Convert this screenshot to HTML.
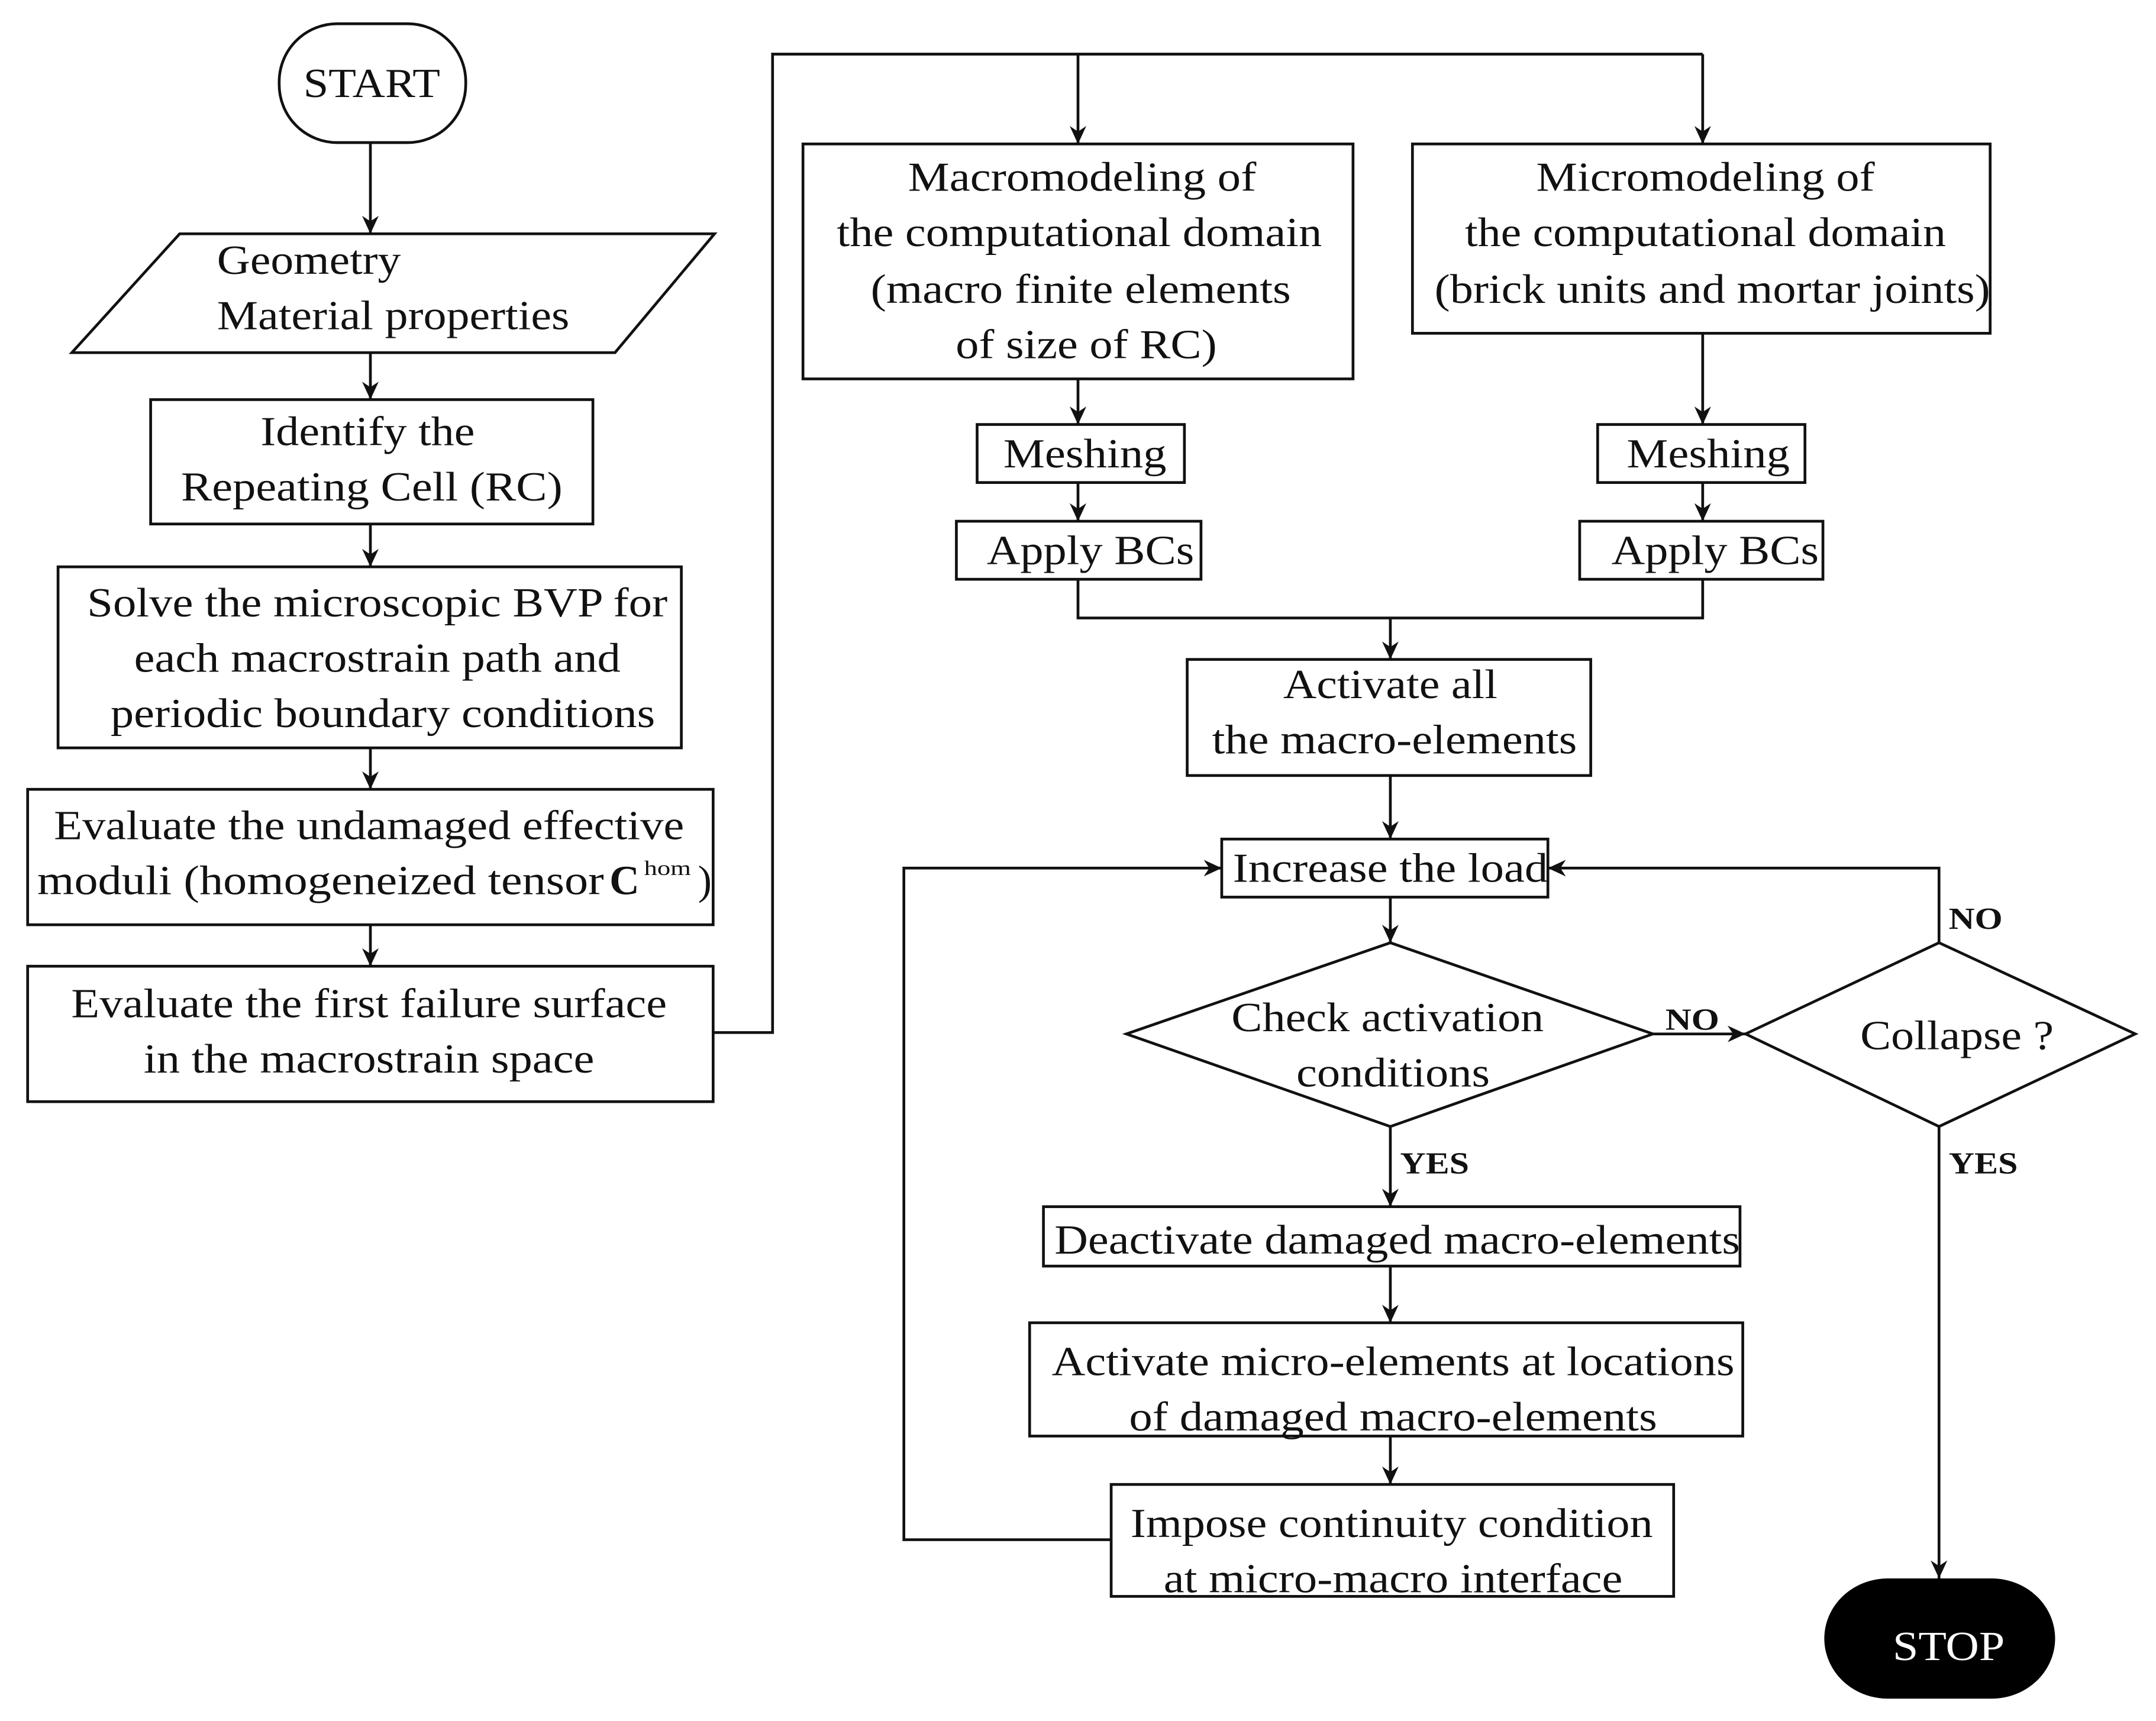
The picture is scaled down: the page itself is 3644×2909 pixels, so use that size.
<!DOCTYPE html>
<html><head><meta charset="utf-8"><style>
html,body{margin:0;padding:0;background:#fff;}
svg{display:block;}
text{font-family:"Liberation Serif",serif;fill:#111;}
</style></head><body>
<svg width="3644" height="2909" viewBox="0 0 1560 1245" xmlns="http://www.w3.org/2000/svg">
<defs>
<marker id="a" markerUnits="userSpaceOnUse" markerWidth="14" markerHeight="12" refX="13" refY="6" orient="auto">
<path d="M0,0 L13,6 L0,12 L4,6 Z" fill="#111"/>
</marker>
</defs>
<g fill="none" stroke="#111" stroke-width="2">
<!-- shapes -->
<rect x="202" y="17" width="135" height="86" rx="42" ry="42"/>
<polygon points="130,169 517,169 445,255 52,255"/>
<rect x="109" y="289" width="320" height="90"/>
<rect x="42" y="410" width="451" height="131"/>
<rect x="20" y="571" width="496" height="98"/>
<rect x="20" y="699" width="496" height="98"/>
<rect x="581" y="104" width="398" height="170"/>
<rect x="1022" y="104" width="418" height="137"/>
<rect x="707" y="307" width="150" height="42"/>
<rect x="692" y="377" width="177" height="42"/>
<rect x="1156" y="307" width="150" height="42"/>
<rect x="1143" y="377" width="176" height="42"/>
<rect x="859" y="477" width="292" height="84"/>
<rect x="884" y="607" width="236" height="42"/>
<polygon points="1006,682 1196,748 1006,815 815,748"/>
<polygon points="1403,682 1545,748 1403,815 1263,748"/>
<rect x="755" y="873" width="504" height="43"/>
<rect x="745" y="957" width="516" height="82"/>
<rect x="804" y="1074" width="407" height="81"/>
<!-- connectors -->
<line x1="268" y1="103" x2="268" y2="169" marker-end="url(#a)"/>
<line x1="268" y1="255" x2="268" y2="289" marker-end="url(#a)"/>
<line x1="268" y1="379" x2="268" y2="410" marker-end="url(#a)"/>
<line x1="268" y1="541" x2="268" y2="571" marker-end="url(#a)"/>
<line x1="268" y1="669" x2="268" y2="699" marker-end="url(#a)"/>
<polyline points="516,747 559,747 559,39 1232,39"/>
<line x1="780" y1="39" x2="780" y2="104" marker-end="url(#a)"/>
<line x1="1232" y1="39" x2="1232" y2="104" marker-end="url(#a)"/>
<line x1="780" y1="274" x2="780" y2="307" marker-end="url(#a)"/>
<line x1="780" y1="349" x2="780" y2="377" marker-end="url(#a)"/>
<line x1="1232" y1="241" x2="1232" y2="307" marker-end="url(#a)"/>
<line x1="1232" y1="349" x2="1232" y2="377" marker-end="url(#a)"/>
<polyline points="780,419 780,447 1232,447 1232,419"/>
<line x1="1006" y1="447" x2="1006" y2="477" marker-end="url(#a)"/>
<line x1="1006" y1="561" x2="1006" y2="607" marker-end="url(#a)"/>
<line x1="1006" y1="649" x2="1006" y2="682" marker-end="url(#a)"/>
<line x1="1196" y1="748" x2="1263" y2="748" marker-end="url(#a)"/>
<polyline points="1403,682 1403,628 1120,628" marker-end="url(#a)"/>
<line x1="1403" y1="815" x2="1403" y2="1142" marker-end="url(#a)"/>
<line x1="1006" y1="815" x2="1006" y2="873" marker-end="url(#a)"/>
<line x1="1006" y1="916" x2="1006" y2="957" marker-end="url(#a)"/>
<line x1="1006" y1="1039" x2="1006" y2="1074" marker-end="url(#a)"/>
<polyline points="804,1114 654,1114 654,628 884,628" marker-end="url(#a)"/>
</g>
<rect x="1320" y="1142" width="167" height="87" rx="46" ry="46" fill="#000"/>
<g font-size="30" text-anchor="middle">
<text x="269" y="70" textLength="99" lengthAdjust="spacingAndGlyphs">START</text>
<text x="157" y="198" text-anchor="start" textLength="133" lengthAdjust="spacingAndGlyphs">Geometry</text>
<text x="157" y="238" text-anchor="start" textLength="255" lengthAdjust="spacingAndGlyphs">Material properties</text>
<text x="266" y="322" textLength="155" lengthAdjust="spacingAndGlyphs">Identify the</text>
<text x="269" y="362" textLength="276" lengthAdjust="spacingAndGlyphs">Repeating Cell (RC)</text>
<text x="273" y="446" textLength="420" lengthAdjust="spacingAndGlyphs">Solve the microscopic BVP for</text>
<text x="273" y="486" textLength="352" lengthAdjust="spacingAndGlyphs">each macrostrain path and</text>
<text x="277" y="526" textLength="394" lengthAdjust="spacingAndGlyphs">periodic boundary conditions</text>
<text x="267" y="607" textLength="456" lengthAdjust="spacingAndGlyphs">Evaluate the undamaged effective</text>
<text x="27" y="647" text-anchor="start" textLength="410" lengthAdjust="spacingAndGlyphs">moduli (homogeneized tensor</text>
<text x="441" y="647" text-anchor="start" font-weight="bold">C</text>
<text x="466" y="633" text-anchor="start" font-size="15" textLength="34" lengthAdjust="spacingAndGlyphs">hom</text>
<text x="505" y="647" text-anchor="start">)</text>
<text x="267" y="736" textLength="431" lengthAdjust="spacingAndGlyphs">Evaluate the first failure surface</text>
<text x="267" y="776" textLength="326" lengthAdjust="spacingAndGlyphs">in the macrostrain space</text>
<text x="783" y="138" textLength="252" lengthAdjust="spacingAndGlyphs">Macromodeling of</text>
<text x="781" y="178" textLength="351" lengthAdjust="spacingAndGlyphs">the computational domain</text>
<text x="782" y="219" textLength="304" lengthAdjust="spacingAndGlyphs">(macro finite elements</text>
<text x="786" y="259" textLength="189" lengthAdjust="spacingAndGlyphs">of size of RC)</text>
<text x="1234" y="138" textLength="245" lengthAdjust="spacingAndGlyphs">Micromodeling of</text>
<text x="1234" y="178" textLength="348" lengthAdjust="spacingAndGlyphs">the computational domain</text>
<text x="1239" y="219" textLength="402" lengthAdjust="spacingAndGlyphs">(brick units and mortar joints)</text>
<text x="785" y="338" textLength="118" lengthAdjust="spacingAndGlyphs">Meshing</text>
<text x="789" y="408" textLength="150" lengthAdjust="spacingAndGlyphs">Apply BCs</text>
<text x="1236" y="338" textLength="118" lengthAdjust="spacingAndGlyphs">Meshing</text>
<text x="1241" y="408" textLength="150" lengthAdjust="spacingAndGlyphs">Apply BCs</text>
<text x="1006" y="505" textLength="155" lengthAdjust="spacingAndGlyphs">Activate all</text>
<text x="1009" y="545" textLength="264" lengthAdjust="spacingAndGlyphs">the macro-elements</text>
<text x="1006" y="638" textLength="228" lengthAdjust="spacingAndGlyphs">Increase the load</text>
<text x="1004" y="746" textLength="226" lengthAdjust="spacingAndGlyphs">Check activation</text>
<text x="1008" y="786" textLength="140" lengthAdjust="spacingAndGlyphs">conditions</text>
<text x="1416" y="759" textLength="140" lengthAdjust="spacingAndGlyphs">Collapse ?</text>
<text x="1011" y="907" textLength="496" lengthAdjust="spacingAndGlyphs">Deactivate damaged macro-elements</text>
<text x="1008" y="995" textLength="494" lengthAdjust="spacingAndGlyphs">Activate micro-elements at locations</text>
<text x="1008" y="1035" textLength="382" lengthAdjust="spacingAndGlyphs">of damaged macro-elements</text>
<text x="1007" y="1112" textLength="378" lengthAdjust="spacingAndGlyphs">Impose continuity condition</text>
<text x="1008" y="1152" textLength="332" lengthAdjust="spacingAndGlyphs">at micro-macro interface</text>
<text x="1410" y="1201" textLength="81" lengthAdjust="spacingAndGlyphs" style="fill:#fff">STOP</text>
</g>
<g font-size="22" font-weight="bold" text-anchor="start">
<text x="1205" y="745" textLength="39" lengthAdjust="spacingAndGlyphs">NO</text>
<text x="1410" y="672" textLength="39" lengthAdjust="spacingAndGlyphs">NO</text>
<text x="1410" y="849" textLength="50" lengthAdjust="spacingAndGlyphs">YES</text>
<text x="1013" y="849" textLength="50" lengthAdjust="spacingAndGlyphs">YES</text>
</g>
</svg>
</body></html>
